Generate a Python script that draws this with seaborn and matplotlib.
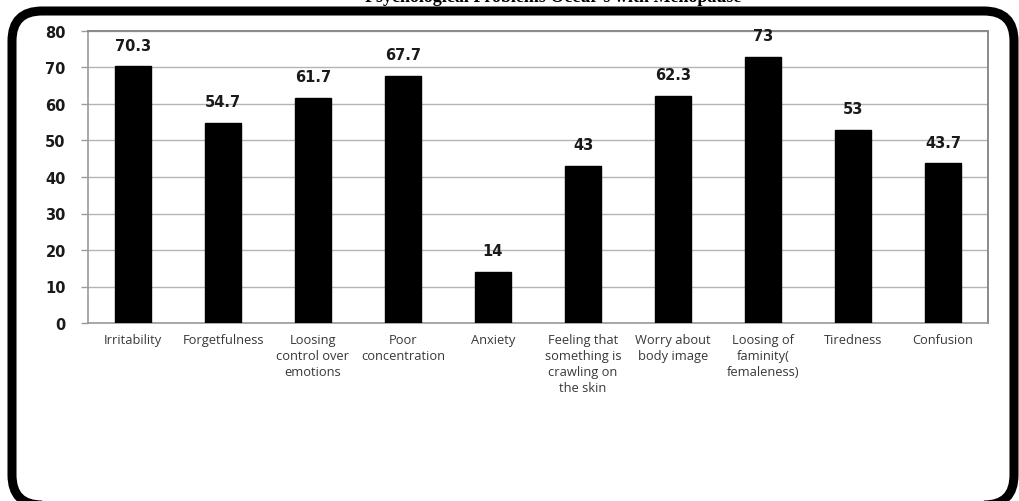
import matplotlib
matplotlib.use("Agg")
import matplotlib.pyplot as plt
import seaborn as sns
import pandas as pd
import numpy as np
from matplotlib.patches import FancyBboxPatch

# Psychological symptoms reported with menopause (%)
symptoms = [
    "Irritability",
    "Forgetfulness",
    "Loosing\ncontrol over\nemotions",
    "Poor\nconcentration",
    "Anxiety",
    "Feeling that\nsomething is\ncrawling on\nthe skin",
    "Worry about\nbody image",
    "Loosing of\nfaminity(\nfemaleness)",
    "Tiredness",
    "Confusion",
]
percentages = [70.3, 54.7, 61.7, 67.7, 14, 43, 62.3, 73, 53, 43.7]
value_labels = ["70.3", "54.7", "61.7", "67.7", "14", "43", "62.3", "73", "53", "43.7"]
y_ticks = [0, 10, 20, 30, 40, 50, 60, 70, 80]
title = "Psychological Problems Occur's with Menopause"

df = pd.DataFrame({"symptom": symptoms, "percent": percentages})

sns.set_theme(style="white")
plt.rcParams["font.family"] = ["DejaVu Sans"]

W, H = 1019, 502
fig = plt.figure(figsize=(W / 100, H / 100), dpi=100)
fig.patch.set_facecolor("white")

ax = fig.add_axes([88 / W, 1 - 324 / H, (988 - 88) / W, (324 - 32) / H])
sns.barplot(data=df, x="symptom", y="percent", color="black", width=0.4,
            saturation=1, ax=ax, zorder=3)
for p in ax.patches:
    p.set_edgecolor("black")

ax.set_ylim(0, 80)
ax.set_xlim(-0.5, len(symptoms) - 0.5)
ax.set_yticks(y_ticks)
ax.set_yticklabels([str(t) for t in y_ticks], fontsize=10.5, fontweight="bold",
                   color="#1a1a1a")
ax.yaxis.grid(True, color="#b4b4b4", linewidth=1.0, zorder=0)
ax.set_axisbelow(True)
ax.set_xlabel("")
ax.set_ylabel("")

# category labels
ax.set_xticks(range(len(symptoms)))
ax.set_xticklabels(symptoms, fontsize=9.3, color="#383838", linespacing=1.3,
                   va="top", ha="center", family="Open Sans")
ax.tick_params(axis="x", which="major", length=0, pad=7)
ax.set_xticks(np.arange(-0.5, len(symptoms), 1.0), minor=True)
ax.tick_params(axis="x", which="minor", length=4, width=1, color="#9a9a9a",
               direction="out")
ax.tick_params(axis="y", length=5, width=1, color="#9a9a9a", pad=11,
               direction="out", left=True)

for side in ["left", "bottom"]:
    ax.spines[side].set_color("#9a9a9a")
    ax.spines[side].set_linewidth(1.2)
for side in ["top", "right"]:
    ax.spines[side].set_visible(True)
    ax.spines[side].set_color("#8a8a8a")
    ax.spines[side].set_linewidth(1.4)

for i, (v, lab) in enumerate(zip(percentages, value_labels)):
    ax.annotate(lab, (i, v), xytext=(0, 10), textcoords="offset points",
                ha="center", va="bottom", fontsize=10.5, fontweight="bold",
                color="#1a1a1a")

# rounded outer frame and heading running off the top edge
ov = fig.add_axes([0, 0, 1, 1], facecolor="none")
ov.set_xlim(0, W)
ov.set_ylim(0, H)
ov.axis("off")
frame = FancyBboxPatch((12, -4), 1002, H - 12 + 4,
                       boxstyle="round,pad=0,rounding_size=30",
                       linewidth=6.5, edgecolor="black", facecolor="none",
                       clip_on=False)
ov.add_patch(frame)
ov.text(553, H - 2, title, ha="center", va="baseline", fontsize=13,
        fontweight="bold", family="Liberation Serif", color="black",
        clip_on=False)

fig.savefig("out.png", dpi=100, facecolor="white")
